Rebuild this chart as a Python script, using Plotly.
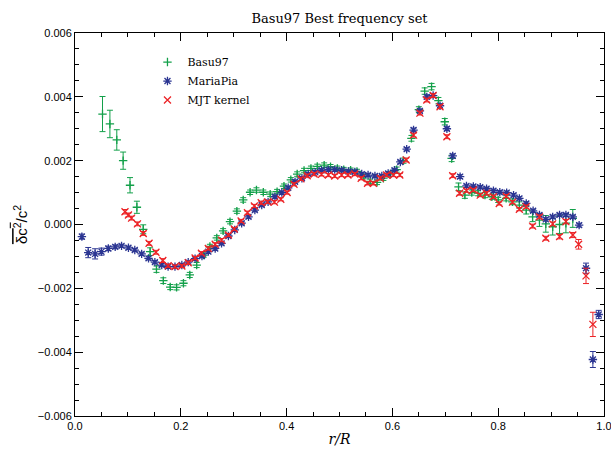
import plotly.graph_objects as go

# ---- data (values in units of 1e-3 for dc2/c2) ----
basu_r = [0.052,0.066,0.079,0.091,0.104,0.117,0.129,0.142,0.154,0.167,0.180,0.192,0.205,0.217,0.230,0.243,0.255,0.268,0.280,0.293,
          0.306,0.318,0.331,0.343,0.356,0.369,0.382,0.395,0.408,0.420,0.433,0.446,0.458,0.471,0.483,0.496,0.508,0.521,0.533,0.546,
          0.558,0.571,0.583,0.596,0.608,0.621,0.636,0.650,0.661,0.674,0.687,0.699,0.712,0.725,0.737,0.750,0.762,0.775,0.788,0.800,
          0.815,0.827,0.840,0.853,0.865,0.878,0.890,0.903,0.916,0.928,0.941]
basu_v = [3.46,3.15,2.65,2.00,1.23,0.54,-0.15,-0.85,-1.40,-1.76,-1.96,-1.97,-1.84,-1.58,-1.27,-0.96,-0.69,-0.42,-0.20,0.09,
          0.42,0.77,1.01,1.08,1.01,0.95,1.03,1.20,1.40,1.58,1.69,1.76,1.82,1.86,1.81,1.76,1.72,1.70,1.66,1.50,
          1.35,1.32,1.45,1.58,1.72,2.00,2.70,3.60,4.18,4.32,3.88,3.22,2.07,1.18,0.92,1.00,0.98,0.92,0.87,0.77,
          0.82,0.71,0.61,0.45,0.24,0.14,0.02,-0.07,0.00,0.04,0.19]
basu_e = [0.55,0.43,0.32,0.27,0.24,0.19,0.14,0.12,0.10,0.09,0.08,0.08,0.08,0.08,0.08,0.07,0.07,0.07,0.07,0.07,
          0.07,0.07,0.07,0.07,0.07,0.07,0.07,0.07,0.07,0.07,0.07,0.07,0.07,0.07,0.07,0.07,0.07,0.07,0.07,0.07,
          0.07,0.07,0.07,0.07,0.08,0.08,0.09,0.09,0.10,0.10,0.10,0.10,0.10,0.12,0.10,0.08,0.08,0.08,0.08,0.08,
          0.08,0.09,0.10,0.12,0.15,0.20,0.26,0.26,0.28,0.30,0.28]

pia_r = [0.013,0.025,0.038,0.050,0.063,0.076,0.088,0.101,0.113,0.126,0.139,0.151,0.164,0.176,0.189,0.202,0.214,0.227,0.240,0.252,
         0.265,0.277,0.290,0.302,0.315,0.328,0.340,0.353,0.365,0.378,0.391,0.403,0.416,0.429,0.441,0.454,0.466,0.479,0.491,0.504,
         0.517,0.529,0.542,0.554,0.567,0.580,0.592,0.604,0.615,0.627,0.640,0.652,0.665,0.677,0.690,0.703,0.714,0.728,0.740,0.753,
         0.766,0.778,0.791,0.803,0.816,0.829,0.840,0.853,0.866,0.878,0.890,0.903,0.916,0.928,0.941,0.953,0.966,0.979,0.990]
pia_v = [-0.38,-0.88,-0.92,-0.85,-0.75,-0.70,-0.67,-0.73,-0.80,-0.92,-1.06,-1.18,-1.27,-1.32,-1.32,-1.27,-1.18,-1.07,-0.99,-0.85,
         -0.75,-0.59,-0.36,-0.17,0.04,0.24,0.45,0.61,0.71,0.87,1.00,1.15,1.34,1.45,1.58,1.64,1.70,1.72,1.72,1.70,
         1.66,1.65,1.58,1.55,1.52,1.52,1.60,1.70,1.96,2.36,2.96,3.56,4.00,4.04,3.72,3.00,2.15,1.50,1.21,1.19,
         1.17,1.12,1.06,1.01,1.00,0.92,0.82,0.66,0.43,0.30,0.16,0.24,0.30,0.30,0.24,-0.02,-1.37,-4.23,-2.82]
pia_e = [0.08,0.16,0.16,0.11,0.07,0.06,0.05,0.05,0.05,0.05,0.05,0.05,0.05,0.05,0.05,0.05,0.05,0.05,0.05,0.05,
         0.05,0.05,0.05,0.05,0.05,0.05,0.05,0.05,0.05,0.05,0.05,0.05,0.05,0.05,0.05,0.05,0.05,0.05,0.05,0.05,
         0.05,0.05,0.05,0.05,0.05,0.05,0.05,0.05,0.05,0.05,0.06,0.06,0.06,0.06,0.06,0.06,0.06,0.06,0.05,0.05,
         0.05,0.05,0.05,0.05,0.05,0.05,0.05,0.05,0.05,0.05,0.05,0.05,0.05,0.05,0.05,0.06,0.16,0.25,0.13]

mjt_r = [0.0945,0.101,0.107,0.118,0.129,0.140,0.153,0.166,0.176,0.189,0.202,0.214,0.227,0.239,0.252,0.265,0.277,0.290,0.301,0.314,
         0.326,0.339,0.352,0.364,0.377,0.389,0.401,0.414,0.427,0.439,0.452,0.466,0.479,0.491,0.504,0.516,0.529,0.541,0.553,0.564,
         0.577,0.589,0.602,0.614,0.626,0.640,0.652,0.665,0.677,0.690,0.703,0.714,0.727,0.740,0.753,0.766,0.778,0.791,0.802,0.815,
         0.827,0.840,0.853,0.865,0.878,0.890,0.903,0.916,0.928,0.941,0.952,0.966,0.979]
mjt_v = [0.40,0.30,0.20,0.02,-0.28,-0.59,-0.87,-1.13,-1.29,-1.32,-1.30,-1.20,-1.05,-0.90,-0.75,-0.62,-0.49,-0.33,-0.14,0.11,
         0.37,0.58,0.68,0.71,0.70,0.79,1.00,1.26,1.43,1.53,1.58,1.57,1.55,1.52,1.55,1.55,1.58,1.45,1.29,1.29,
         1.45,1.55,1.55,1.55,2.02,2.80,3.49,3.90,4.04,3.69,2.75,1.53,0.98,1.06,1.08,0.92,0.98,0.87,0.66,0.89,
         0.70,0.48,0.56,-0.05,0.24,-0.43,0.02,-0.38,0.09,-0.33,-0.62,-1.61,-3.13]
mjt_e = [0.07,0.06,0.06,0.06,0.06,0.06,0.06,0.06,0.05,0.05,0.05,0.05,0.05,0.05,0.05,0.05,0.05,0.05,0.05,0.05,
         0.05,0.05,0.05,0.05,0.05,0.05,0.05,0.05,0.05,0.05,0.05,0.05,0.05,0.05,0.05,0.05,0.05,0.05,0.05,0.05,
         0.05,0.05,0.05,0.05,0.06,0.06,0.06,0.06,0.06,0.06,0.06,0.06,0.06,0.05,0.05,0.05,0.05,0.05,0.05,0.05,
         0.05,0.05,0.05,0.06,0.06,0.06,0.06,0.07,0.07,0.08,0.15,0.24,0.38]

GREEN = "#13a04a"
BLUE = "#2b3592"
RED = "#ec2326"

def scaled(vals):
    return [v * 1e-3 for v in vals]

fig = go.Figure()
series = [
    ("Basu97", basu_r, basu_v, basu_e, GREEN, "cross-thin", 6),
    ("MariaPia", pia_r, pia_v, pia_e, BLUE, "asterisk", 7),
    ("MJT kernel", mjt_r, mjt_v, mjt_e, RED, "x-thin", 7),
]
for name, r, v, e, col, sym, sz in series:
    fig.add_trace(go.Scatter(
        x=r, y=scaled(v), name=name, mode="markers",
        marker=dict(symbol=sym, size=sz, color=col, line=dict(color=col, width=1.3)),
        error_y=dict(type="data", array=scaled(e), visible=True, color=col, thickness=1, width=3),
    ))

axis_common = dict(
    showline=True, linecolor="black", linewidth=1, mirror="ticks",
    ticks="inside", ticklen=8, tickwidth=1, tickcolor="black",
    showgrid=False, zeroline=False, automargin=False, ticklabeloverflow="allow",
    tickfont=dict(family="Liberation Sans, Arial", size=11, color="black"),
)

fig.update_layout(
    width=611, height=450,
    paper_bgcolor="white", plot_bgcolor="white",
    margin=dict(l=75, r=7, t=33, b=34, autoexpand=False),
    title=dict(text="Basu97 Best frequency set", x=0.5, xref="paper", xanchor="center",
               y=0.96, yref="container", yanchor="middle",
               font=dict(family="DejaVu Serif", size=13, color="black")),
    showlegend=True,
    legend=dict(x=0.137, y=0.962, xanchor="left", yanchor="top", bgcolor="rgba(0,0,0,0)",
                font=dict(family="DejaVu Serif", size=11, color="black"), itemwidth=30,
                tracegroupgap=0),
    xaxis=dict(range=[0, 1.0], dtick=0.2, tickformat=".1f",
               minor=dict(dtick=0.05, ticks="inside", ticklen=4, tickcolor="black"),
               title=dict(text="<i>r/R</i>", standoff=2,
                          font=dict(family="DejaVu Serif", size=14, color="black")),
               **axis_common),
    yaxis=dict(range=[-0.006, 0.006], dtick=0.002, tickformat=".3f",
               minor=dict(dtick=0.0005, ticks="inside", ticklen=4, tickcolor="black"),
               title=dict(text='<span style="text-decoration:overline">δc<sup>2</sup></span>/c<sup>2</sup>',
                          standoff=6,
                          font=dict(family="Liberation Sans, Arial", size=15, color="black")),
               **axis_common),
)

fig.write_html("out.html", config={"displayModeBar": False},
               post_script="document.body.style.margin='0';")
